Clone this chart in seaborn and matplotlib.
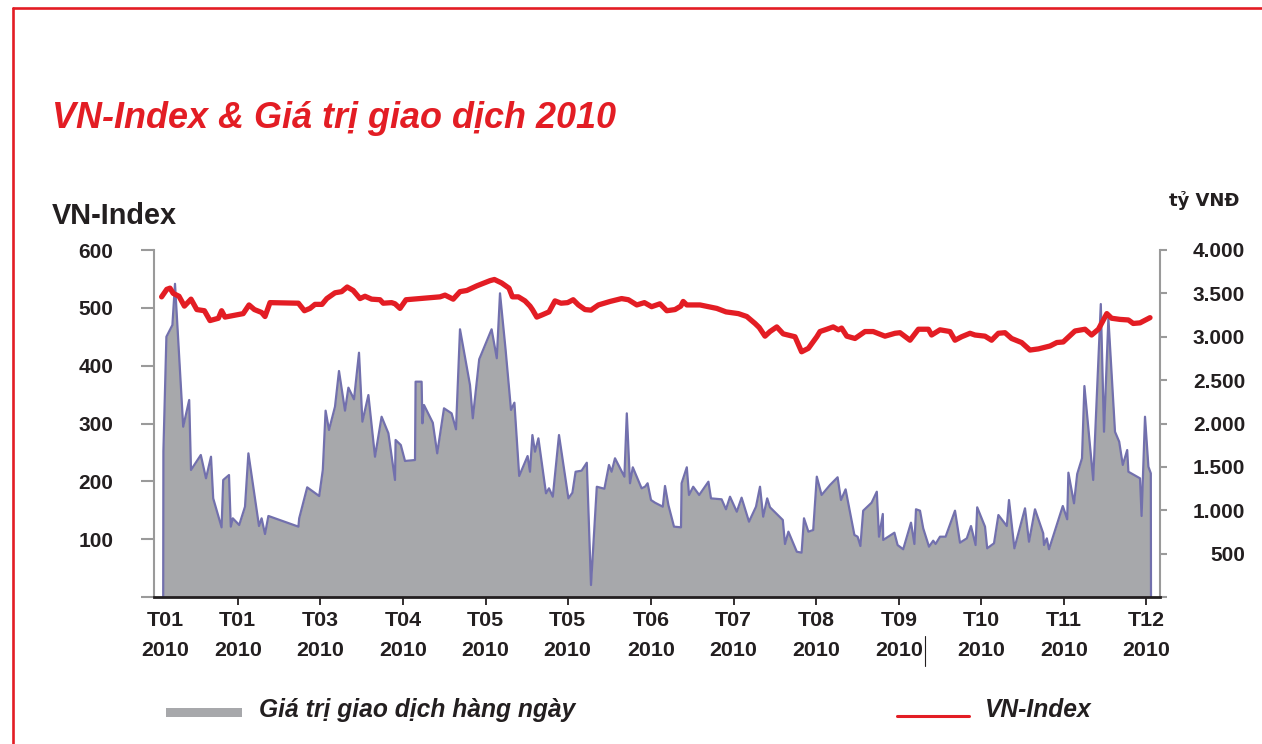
import matplotlib
matplotlib.use("Agg")
import matplotlib.pyplot as plt
import seaborn as sns
import pandas as pd
from matplotlib import font_manager as fm
from matplotlib.lines import Line2D
from matplotlib.patches import Rectangle

# ---------------- data ----------------
# x = trading-day index within 2010
trade_day = [
    1.8, 1.85, 2.6, 4.1, 4.75, 6.8, 8.3, 8.75, 11.2, 12.5,
    13.75, 14.3, 16.4, 16.8, 18.25, 18.7, 19.2, 20.8, 22.25, 23.1,
    25.75, 26.4, 27.25, 28.1, 35.6, 35.8, 37.8, 40.8, 41.7, 42.4,
    43.25, 44.75, 45.75, 47.25, 48.1, 49.5, 50.75, 51.6, 53.1, 54.75,
    56.4, 58.1, 59.75, 59.9, 61.2, 62.25, 64.75, 64.9, 66.4, 66.6,
    67, 69.2, 70.3, 72, 73.9, 75, 76, 78.5, 79.2, 80.8,
    83.9, 85.2, 86, 87.4, 88.75, 89.6, 90.8, 92.9, 93.5, 94.1,
    94.75, 95.6, 97.5, 98.25, 99.2, 100.75, 103.1, 104.1, 104.9, 106.4,
    107.7, 108.75, 110.2, 112.1, 113.25, 113.9, 114.75, 117.1, 117.7, 118.5,
    119.2, 121.4, 122.25, 122.9, 123.75, 124.75, 126.7, 127.25, 128.1, 129.5,
    131.25, 131.4, 132.7, 133.25, 134.3, 135.8, 138.1, 138.75, 141.4, 142.5,
    143.5, 145.2, 146.4, 148.25, 150, 151, 151.8, 152.8, 153.5, 156.7,
    157.25, 158.1, 160.2, 161.4, 162, 163.1, 164.3, 165.2, 166.4, 168.5,
    170.4, 171.25, 172.4, 174.6, 175.4, 176.1, 176.8, 178.9, 180.2, 180.75,
    181.7, 181.8, 184.6, 185.4, 186.8, 188.75, 189.6, 190, 191, 191.8,
    193.25, 194.3, 194.9, 196, 197.4, 199.75, 201, 202.7, 203.75, 204.9,
    205.3, 207.25, 207.8, 209.5, 210.6, 212.7, 213.25, 214.6, 217.25, 218.25,
    219.75, 221.8, 222, 222.7, 223.25, 226.7, 227.8, 228.1, 229.5, 230.3,
    231.5, 232.1, 234.3, 236.2, 237, 238.1, 239.75, 240.8, 241.7, 242.8,
    243.1, 246, 246.4, 247.25, 248.1, 248.7, 248.75,
]
trade_value = [  # Giá trị giao dịch hàng ngày (tỷ VNĐ)
    0, 1680, 3000, 3135, 3610, 1963, 2271, 1464, 1637, 1368,
    1617, 1137, 803, 1349, 1406, 811, 907, 830, 1041, 1656,
    818, 907, 726, 934, 811, 907, 1264, 1164, 1464, 2148,
    1925, 2194, 2605, 2148, 2413, 2279, 2816, 2021, 2328, 1617,
    2078, 1887, 1349, 1810, 1752, 1568, 1579, 2482, 2482, 2002,
    2213, 2009, 1656, 2175, 2117, 1933, 3086, 2444, 2060, 2740,
    3086, 2752, 3501, 2850, 2156, 2240, 1395, 1625, 1444, 1867,
    1675, 1829, 1195, 1253, 1156, 1867, 1137, 1202, 1444, 1456,
    1548, 138, 1271, 1248, 1522, 1444, 1599, 1387, 2117, 1311,
    1495, 1253, 1271, 1311, 1118, 1087, 1041, 1280, 1060, 811,
    803, 1311, 1495, 1176, 1271, 1176, 1329, 1137, 1126, 1011,
    1156, 983, 1145, 868, 1041, 1271, 926, 1137, 1034, 888,
    611, 753, 522, 511, 907, 753, 772, 1387, 1176, 1291,
    1380, 1118, 1241, 715, 695, 588, 995, 1087, 1214, 695,
    957, 657, 741, 599, 550, 857, 611, 1011, 995, 792,
    580, 649, 611, 695, 695, 995, 626, 676, 818, 599,
    1034, 811, 561, 619, 945, 818, 1118, 561, 1022, 637,
    1011, 734, 599, 676, 550, 1049, 896, 1433, 1080, 1418,
    1599, 2432, 1349, 3377, 1905, 3213, 1905, 1790, 1522, 1694,
    1444, 1368, 934, 2078, 1502, 1426, 0,
]

index_day = [
    1.4, 2.7, 3.5, 4.3, 5.75, 7.1, 8.75, 10.2, 12.1, 13.5,
    15.6, 16.4, 17.25, 21.8, 23.25, 24.6, 26.4, 27.25, 28.5, 35.6,
    37.1, 38.5, 39.75, 41.5, 42.7, 44.75, 46.4, 47.8, 49.3, 51,
    52.25, 53.9, 56, 56.8, 58.9, 59.75, 61, 62.5, 66, 71,
    72.25, 74.3, 76, 77.7, 80.2, 83.5, 84.6, 86.4, 88.25, 89.1,
    90.6, 92.25, 93.5, 94.1, 95.2, 96.6, 98.25, 99.75, 101.25, 102.9,
    104.3, 105.6, 107.25, 108.75, 110.6, 113.5, 116.4, 118.1, 120.2, 122.1,
    123.9, 126, 127.7, 129.75, 131.2, 131.8, 132.7, 136, 140.2, 142.5,
    145.6, 147.7, 149.75, 150.8, 152.25, 153.5, 155.2, 156.8, 159.75, 161.4,
    163.1, 165.2, 166, 167.7, 169.3, 170.6, 171.4, 172.7, 174.75, 177.25,
    179.3, 182.25, 184.75, 186, 188.5, 190.6, 193.1, 193.9, 196, 198.5,
    199.75, 201.4, 203.5, 204.75, 207.25, 208.9, 210.6, 212.25, 213.9, 216.4,
    218.5, 220.6, 223.5, 225.2, 226.8, 229.75, 232.25, 233.9, 235.6, 237.7,
    238.9, 241, 243.1, 244.3, 246, 247.7, 248.5,
]
index_value = [  # VN-Index
    519, 532, 534, 525, 520, 503, 515, 497, 495, 478,
    482, 495, 484, 490, 505, 497, 492, 485, 509, 508,
    495, 499, 506, 506, 516, 526, 528, 536, 530, 516,
    520, 515, 514, 508, 509, 507, 499, 514, 516, 519,
    522, 515, 528, 530, 538, 547, 549, 543, 534, 519,
    519, 512, 503, 497, 484, 488, 493, 512, 508, 509,
    514, 505, 497, 496, 505, 511, 516, 514, 505, 509,
    502, 507, 495, 497, 503, 511, 505, 505, 499, 493,
    490, 485, 473, 466, 451, 459, 467, 455, 450, 424,
    430, 450, 459, 463, 467, 462, 465, 451, 447, 459,
    459, 451, 456, 457, 444, 463, 463, 453, 462, 459,
    444, 450, 456, 453, 451, 444, 456, 457, 447, 440,
    427, 429, 434, 440, 441, 460, 463, 453, 463, 490,
    482, 480, 479, 473, 474, 480, 483,
]

tick_day = [2.25, 20.45, 41.1, 61.75, 82.4, 102.9, 123.75, 144.4, 165.1,
            185.75, 206.25, 227, 247.5]
tick_month = ["T01", "T01", "T03", "T04", "T05", "T05", "T06", "T07", "T08",
              "T09", "T10", "T11", "T12"]
tick_year = "2010"

left_ticks = [0, 100, 200, 300, 400, 500, 600]
left_labels = ["", "100", "200", "300", "400", "500", "600"]
right_ticks = [0, 500, 1000, 1500, 2000, 2500, 3000, 3500, 4000]
right_labels = ["", "500", "1.000", "1.500", "2.000", "2.500", "3.000", "3.500", "4.000"]

title = "VN-Index & Giá trị giao dịch 2010"
left_title = "VN-Index"
right_title = "tỷ VNĐ"
legend_area = "Giá trị giao dịch hàng ngày"
legend_line = "VN-Index"

# ---------------- style ----------------
RED = "#e31d24"
GRAY = "#a7a8ab"
PURPLE = "#7270ad"
INK = "#231f20"
AXGRAY = "#9a9a9a"

sns.set_theme(style="white")
avail = {f.name for f in fm.fontManager.ttflist}
HAS_NARROW = "Liberation Sans Narrow" in avail
NARROW = "Liberation Sans Narrow" if HAS_NARROW else "Liberation Sans"
SANS = "Liberation Sans"
plt.rcParams["font.family"] = [SANS, "DejaVu Sans"]

def sz(narrow_size, wide_size):
    return narrow_size if HAS_NARROW else wide_size

W, H = 1262, 744
fig = plt.figure(figsize=(W / 100, H / 100), dpi=100)
fig.patch.set_facecolor("white")

def fx(px):
    return px / W

def fy(py):
    return 1 - py / H

ax = fig.add_axes([fx(154.3), fy(597), (1159.7 - 154.3) / W, (597 - 250) / H])
ax2 = ax.twinx()

trade_df = pd.DataFrame({"day": trade_day, "value": trade_value})
index_df = pd.DataFrame({"day": index_day, "value": index_value})

ax2.fill_between(trade_df["day"], 0, trade_df["value"], color=GRAY, lw=0)
sns.lineplot(data=trade_df, x="day", y="value", ax=ax2, color=PURPLE,
             lw=1.6, estimator=None, sort=False)
sns.lineplot(data=index_df, x="day", y="value", ax=ax, color=RED,
             lw=3.8, estimator=None, sort=False, solid_joinstyle="round")

ax.set_zorder(ax2.get_zorder() + 1)
ax.patch.set_visible(False)

ax.set_xlim(-0.425, 250.925)
ax.set_ylim(0, 600)
ax2.set_ylim(0, 4000)
for a in (ax, ax2):
    a.set_xlabel("")
    a.set_ylabel("")
    a.grid(False)

# left axis
ax.set_yticks(left_ticks, left_labels)
ax.tick_params(axis="y", left=True, length=9.6, width=1.5, color=AXGRAY,
               pad=19.9, labelsize=15, labelcolor=INK)
for lbl in ax.get_yticklabels():
    lbl.set_fontweight("bold")
    lbl.set_fontfamily(SANS)

# right axis
ax2.set_yticks(right_ticks, right_labels)
ax2.tick_params(axis="y", right=True, left=False, length=5, width=1.5,
                color=AXGRAY, pad=56.5, labelsize=15, labelcolor=INK)
for lbl in ax2.get_yticklabels():
    lbl.set_fontweight("bold")
    lbl.set_fontfamily(SANS)
    lbl.set_horizontalalignment("right")

# x axis
ax.set_xticks(tick_day, [f"{m}\n{tick_year}" for m in tick_month])
ax.tick_params(axis="x", bottom=True, length=5.8, width=1.3, color=INK,
               pad=4.5, labelsize=sz(17.5, 15.4), labelcolor=INK)
for lbl in ax.get_xticklabels():
    lbl.set_fontweight("bold")
    lbl.set_fontfamily(NARROW)
    lbl.set_linespacing(1.68)
ax.xaxis.get_major_ticks()[0].tick1line.set_visible(False)

# spines
ax.spines["top"].set_visible(False)
ax.spines["right"].set_visible(False)
ax.spines["left"].set_color(AXGRAY)
ax.spines["left"].set_linewidth(1.5)
ax.spines["bottom"].set_color(INK)
ax.spines["bottom"].set_linewidth(2.0)
for s in ("top", "left", "bottom"):
    ax2.spines[s].set_visible(False)
ax2.spines["right"].set_color(AXGRAY)
ax2.spines["right"].set_linewidth(1.5)

# titles
fig.text(fx(52), fy(128.5), title, color=RED, fontsize=sz(30, 25.9),
         fontfamily=NARROW, fontweight="bold", fontstyle="italic",
         ha="left", va="baseline")
fig.text(fx(52), fy(224), left_title, color=INK, fontsize=sz(25, 20.8),
         fontfamily=NARROW, fontweight="bold", ha="left", va="baseline")
fig.text(fx(1239), fy(206), right_title, color=INK, fontsize=13,
         fontfamily=["DejaVu Sans"], fontweight="bold", ha="right", va="baseline")

# legend (drawn manually, like the original)
fig.add_artist(Rectangle((fx(165.5), fy(717)), (241.5 - 165.5) / W, 9 / H,
                         transform=fig.transFigure, color=GRAY, lw=0))
fig.text(fx(259), fy(717), legend_area, color=INK, fontsize=sz(21.5, 17.7),
         fontfamily=NARROW, fontweight="bold", fontstyle="italic",
         ha="left", va="baseline")
fig.add_artist(Line2D([fx(897), fx(969)], [fy(715.5), fy(715.5)],
                      transform=fig.transFigure, color=RED, lw=2.2))
fig.text(fx(985), fy(717), legend_line, color=INK, fontsize=sz(21.5, 17.7),
         fontfamily=NARROW, fontweight="bold", fontstyle="italic",
         ha="left", va="baseline")

# small stray rule next to the T09 label, as in the original
fig.add_artist(Line2D([fx(924.5), fx(924.5)], [fy(636), fy(666)],
                      transform=fig.transFigure, color=INK, lw=0.8))

# red page frame (top and left edges visible)
fig.add_artist(Line2D([fx(12.5), 1.0], [fy(8), fy(8)],
                      transform=fig.transFigure, color=RED, lw=1.9))
fig.add_artist(Line2D([fx(12.5), fx(12.5)], [fy(8), 0.0],
                      transform=fig.transFigure, color=RED, lw=1.9))

fig.savefig("out.png", dpi=100, facecolor="white")
